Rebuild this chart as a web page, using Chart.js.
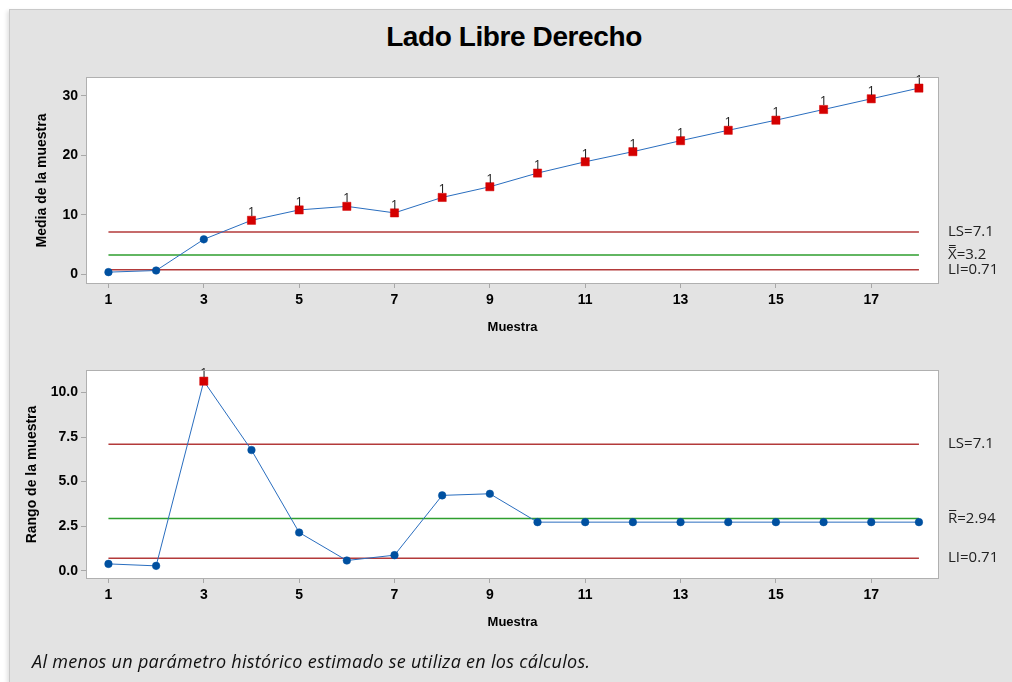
<!DOCTYPE html>
<html>
<head>
<meta charset="utf-8">
<script src="https://cdn.jsdelivr.net/npm/chart.js@4.4.1/dist/chart.umd.min.js"></script>
<style>
  body { margin: 0; background: #fff; width: 1012px; height: 682px; overflow: hidden; position: relative; font-family: "Liberation Sans", Arial, sans-serif; }
  #panel { position: absolute; left: 9px; top: 9px; right: 0; bottom: 0; background: #e3e3e3; border-left: 1px solid #c9c9c9; border-top: 1px solid #c9c9c9; box-shadow: -2px 2px 4px rgba(0,0,0,0.12); }
  #title { position: absolute; left: 0; width: 1028px; top: 21px; text-align: center; font-weight: bold; font-size: 28px; color: #000; letter-spacing: -0.4px; }
  #note { position: absolute; left: 32px; top: 649px; font-family: "Open Sans", sans-serif; font-style: italic; font-size: 18px; letter-spacing: 0.3px; color: #111; }
  canvas { position: absolute; left: 0; }
  #meanChart { top: 60px; }
  #rangeChart { top: 350px; }
</style>
</head>
<body>
<div id="panel"></div>
<div id="title">Lado Libre Derecho</div>
<canvas id="meanChart" width="1012" height="290"></canvas>
<canvas id="rangeChart" width="1012" height="300"></canvas>
<div id="note">Al menos un parámetro histórico estimado se utiliza en los cálculos.</div>
<script>
// subgroup numbers
const samples = [1, 2, 3, 4, 5, 6, 7, 8, 9, 10, 11, 12, 13, 14, 15, 16, 17, 18];

// X-bar chart
const sampleMeans = [0.33, 0.6, 5.85, 9.05, 10.8, 11.4, 10.3, 12.9, 14.7, 17.0, 18.9, 20.6, 22.45, 24.2, 25.9, 27.7, 29.5, 31.3];
const meanFlags = [0, 0, 0, 1, 1, 1, 1, 1, 1, 1, 1, 1, 1, 1, 1, 1, 1, 1];
const meanUCL = 7.1;
const meanCenter = 3.2;
const meanLCL = 0.71;

// R chart
const sampleRanges = [0.39, 0.28, 10.63, 6.77, 2.15, 0.58, 0.88, 4.23, 4.32, 2.73, 2.73, 2.73, 2.73, 2.73, 2.73, 2.73, 2.73, 2.73];
const rangeFlags = [0, 0, 1, 0, 0, 0, 0, 0, 0, 0, 0, 0, 0, 0, 0, 0, 0, 0];
const rangeUCL = 7.1;
const rangeCenter = 2.94;
const rangeLCL = 0.71;

// tick labels
const sampleTicks = [1, 3, 5, 7, 9, 11, 13, 15, 17];
const meanTicks = [0, 10, 20, 30];
const rangeTicks = [0, 2.5, 5, 7.5, 10];

Chart.defaults.font.family = '"Liberation Sans", Arial, sans-serif';
Chart.defaults.color = '#000';

const RED = '#b33a3a';
const GREEN = '#2e9e2e';
const LINE_BLUE = '#2a6ebf';
const DOT_BLUE = '#0050a0';
const FLAG_RED = '#d40000';

// white plot area with a thin grey frame
const plotFrame = {
  id: 'plotFrame',
  beforeDraw(chart) {
    const a = chart.chartArea, ctx = chart.ctx;
    ctx.save();
    ctx.fillStyle = '#fff';
    ctx.fillRect(a.left, a.top, a.width, a.height);
    ctx.restore();
  },
  afterDraw(chart) {
    const a = chart.chartArea, ctx = chart.ctx;
    ctx.save();
    ctx.strokeStyle = '#b0b0b0';
    ctx.lineWidth = 1;
    ctx.strokeRect(a.left - 0.5, a.top - 0.5, a.width + 1, a.height + 1);
    ctx.restore();
  }
};

// "1" above each point that fails test 1
const flagMarks = {
  id: 'flagMarks',
  afterDatasetsDraw(chart, args, opts) {
    const ctx = chart.ctx;
    const meta = chart.getDatasetMeta(0);
    ctx.save();
    ctx.font = '13px "Open Sans", sans-serif';
    ctx.fillStyle = '#222';
    ctx.textAlign = 'center';
    ctx.textBaseline = 'alphabetic';
    meta.data.forEach((pt, i) => {
      if (opts.flags[i]) ctx.fillText('1', pt.x, pt.y - 4);
    });
    ctx.restore();
  }
};

// limit values written to the right of the plot
const limitLabels = {
  id: 'limitLabels',
  afterDraw(chart, args, opts) {
    const ctx = chart.ctx;
    const y = chart.scales.y;
    const x0 = chart.chartArea.right + 10;
    ctx.save();
    ctx.font = '15px "Open Sans", sans-serif';
    ctx.fillStyle = '#222';
    ctx.textAlign = 'left';
    ctx.textBaseline = 'middle';
    ctx.strokeStyle = '#222';
    ctx.lineWidth = 1;
    opts.items.forEach(item => {
      const py = y.getPixelForValue(item.value);
      ctx.fillText(item.text, x0, py);
      if (item.bars) {
        const w = ctx.measureText(item.text.charAt(0)).width;
        for (let b = 0; b < item.bars; b++) {
          const by = Math.round(py - 8 - b * 2.5) + 0.5;
          ctx.beginPath();
          ctx.moveTo(x0 + 1, by);
          ctx.lineTo(x0 + w - 1, by);
          ctx.stroke();
        }
      }
    });
    ctx.restore();
  }
};

function limitLine(value, color) {
  return {
    data: [{ x: samples[0], y: value }, { x: samples[samples.length - 1], y: value }],
    borderColor: color,
    borderWidth: 1.5,
    pointRadius: 0,
    order: 2
  };
}

function makeChart(id, s) {
  const pts = samples.map((n, i) => ({ x: n, y: s.values[i] }));
  return new Chart(document.getElementById(id), {
    type: 'line',
    data: {
      datasets: [
        {
          data: pts,
          borderColor: LINE_BLUE,
          borderWidth: 1,
          pointStyle: s.flags.map(f => f ? 'rect' : 'circle'),
          pointRadius: s.flags.map(f => f ? 5.8 : 3.8),
          pointBackgroundColor: s.flags.map(f => f ? FLAG_RED : DOT_BLUE),
          pointBorderColor: s.flags.map(f => f ? FLAG_RED : DOT_BLUE),
          pointBorderWidth: 0.5,
          order: 0
        },
        limitLine(s.ucl, RED),
        limitLine(s.center, GREEN),
        limitLine(s.lcl, RED)
      ]
    },
    options: {
      responsive: false,
      animation: false,
      layout: { padding: { left: s.padLeft, right: 74, top: s.padTop, bottom: s.padBottom } },
      plugins: {
        legend: { display: false },
        tooltip: { enabled: false },
        flagMarks: { flags: s.flags },
        limitLabels: { items: s.labels }
      },
      scales: {
        x: {
          type: 'linear',
          min: 0.55,
          max: 18.4,
          afterBuildTicks: sc => { sc.ticks = sampleTicks.map(v => ({ value: v })); },
          afterFit: sc => { sc.height = 56; },
          ticks: { font: { size: 14, weight: 'bold' }, padding: 4, autoSkip: false, maxRotation: 0 },
          grid: { drawOnChartArea: false, drawTicks: true, tickLength: 5, color: '#a8a8a8' },
          border: { display: false },
          title: { display: true, text: 'Muestra', font: { size: 13, weight: 'bold' }, padding: { top: 4, bottom: 4 } }
        },
        y: {
          min: s.yMin,
          max: s.yMax,
          afterBuildTicks: sc => { sc.ticks = s.yTicks.map(v => ({ value: v })); },
          afterFit: sc => { sc.width = s.yWidth; },
          ticks: { font: { size: 14, weight: 'bold' }, padding: 3, callback: s.fmt },
          grid: { drawOnChartArea: false, drawTicks: true, tickLength: 6, color: '#a8a8a8' },
          border: { display: false },
          title: { display: true, text: s.yTitle, font: { size: 14, weight: 'bold' }, padding: { top: 4, bottom: 4 } }
        }
      }
    },
    plugins: [plotFrame, flagMarks, limitLabels]
  });
}

makeChart('meanChart', {
  values: sampleMeans,
  flags: meanFlags,
  ucl: meanUCL, center: meanCenter, lcl: meanLCL,
  yMin: -1.5, yMax: 33,
  yTicks: meanTicks,
  fmt: v => String(v),
  yTitle: 'Media de la muestra',
  padLeft: 30, yWidth: 57,
  padTop: 18, padBottom: 11,
  labels: [
    { text: 'LS=' + meanUCL, value: meanUCL },
    { text: 'X=' + meanCenter, value: meanCenter, bars: 2 },
    { text: 'LI=' + meanLCL, value: meanLCL }
  ]
});

makeChart('rangeChart', {
  values: sampleRanges,
  flags: rangeFlags,
  ucl: rangeUCL, center: rangeCenter, lcl: rangeLCL,
  yMin: -0.4, yMax: 11.2,
  yTicks: rangeTicks,
  fmt: v => v.toFixed(1),
  yTitle: 'Rango de la muestra',
  padLeft: 20, yWidth: 67,
  padTop: 21, padBottom: 16,
  labels: [
    { text: 'LS=' + rangeUCL, value: rangeUCL },
    { text: 'R=' + rangeCenter, value: rangeCenter, bars: 1 },
    { text: 'LI=' + rangeLCL, value: rangeLCL }
  ]
});
</script>
</body>
</html>
